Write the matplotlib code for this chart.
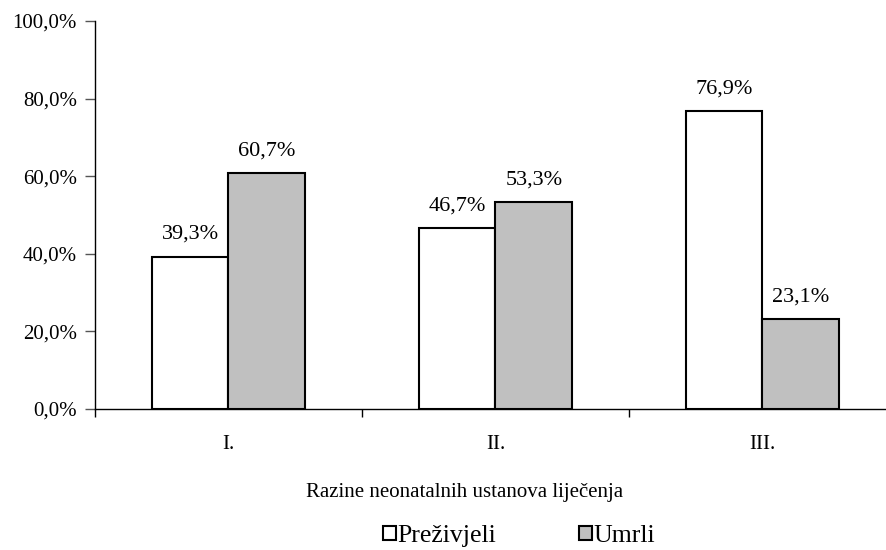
import matplotlib.pyplot as plt
from matplotlib.patches import Patch

categories = ['I.', 'II.', 'III.']
prezivjeli = [39.3, 46.7, 76.9]
umrli = [60.7, 53.3, 23.1]
series_names = ['Preživjeli', 'Umrli']
y_ticks = [0, 20, 40, 60, 80, 100]

FONT_SIZE = 15
LEGEND_FONT_SIZE = 18.5
plt.rcParams.update({
    'font.family': 'Liberation Serif',
    'font.size': FONT_SIZE,
})

fig = plt.figure(figsize=(8.87, 5.5), dpi=100)
ax = fig.add_axes([95 / 887, 1 - 409 / 550, 801 / 887, 388 / 550])

x = list(range(len(categories)))
w = 0.287
bars1 = ax.bar([i - w / 2 for i in x], prezivjeli, w, color='white', edgecolor='black', lw=1.5)
bars2 = ax.bar([i + w / 2 for i in x], umrli, w, color='#c0c0c0', edgecolor='black', lw=1.5)

for bars, vals in [(bars1, prezivjeli), (bars2, umrli)]:
    for b, v in zip(bars, vals):
        ax.annotate(f'{v:.1f}%'.replace('.', ','), (b.get_x() + b.get_width() / 2, v),
                    xytext=(0, 9), textcoords='offset points', ha='center', va='bottom',
                    fontsize=16)

ax.set_xlim(-0.5, len(categories) - 0.5)
ax.set_ylim(0, 100)
ax.set_yticks(y_ticks)
ax.set_yticklabels([f'{t:.1f}%'.replace('.', ',') for t in y_ticks])
ax.set_xticks(x)
ax.set_xticklabels(categories)
ax.set_xticks([i - 0.5 for i in range(len(categories) + 1)], minor=True)
ax.tick_params(axis='x', which='major', length=0, pad=19)
ax.tick_params(axis='x', which='minor', length=6, width=1, direction='out')
ax.tick_params(axis='y', length=7, width=1, color='#555555', pad=6)

for s in ['top', 'right']:
    ax.spines[s].set_visible(False)
ax.spines['left'].set_linewidth(1)
ax.spines['bottom'].set_linewidth(1)

fig.text(465 / 887, 1 - 492 / 550, 'Razine neonatalnih ustanova liječenja', ha='center', va='center')

handles = [Patch(facecolor='white', edgecolor='black', lw=1.5),
           Patch(facecolor='#c0c0c0', edgecolor='black', lw=1.5)]
fig.legend(handles, series_names, loc='center left', bbox_to_anchor=(383 / 887, 1 - 536 / 550),
           ncol=2, frameon=False, fontsize=LEGEND_FONT_SIZE,
           handlelength=0.5, handleheight=0.5,
           handletextpad=0.05, columnspacing=3.25, borderpad=0, borderaxespad=0)

fig.savefig('out.png', dpi=100)
